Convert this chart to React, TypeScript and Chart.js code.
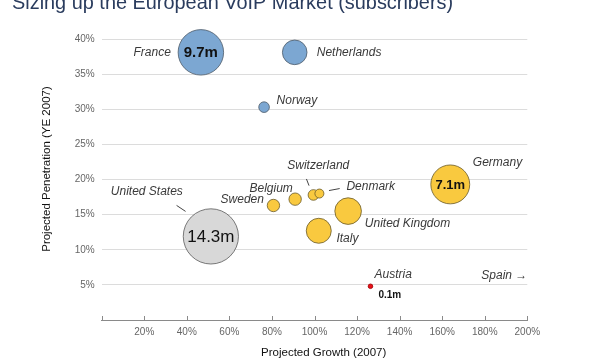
import React, { useEffect, useRef } from 'react';
import { Chart, registerables } from 'chart.js';

Chart.register(...registerables);

const TITLE = 'Sizing up the European VoIP Market (subscribers)';
const X_TITLE = 'Projected Growth (2007)';
const Y_TITLE = 'Projected Penetration (YE 2007)';
const OFF_CHART_LABEL = 'Spain \u2192';
const OFF_CHART_Y = 6.3;

const countries = [
  'France', 'Netherlands', 'Norway', 'United States', 'Sweden', 'Belgium',
  'Switzerland', 'Denmark', 'Italy', 'United Kingdom', 'Germany', 'Austria',
];
const growth = [46.6, 90.7, 76.3, 51.3, 80.7, 90.9, 99.5, 102.3, 102.0, 115.8, 163.8, 126.3];
const penetration = [38.1, 38.1, 30.3, 11.9, 16.3, 17.2, 17.8, 18.0, 12.7, 15.5, 19.3, 4.8];
const subscribers = [9.7, 2.84, 0.53, 14.3, 0.72, 0.72, 0.53, 0.38, 2.93, 3.32, 7.1, 0.1];
const groups = ['blue', 'blue', 'blue', 'gray', 'yellow', 'yellow', 'yellow', 'yellow', 'yellow', 'yellow', 'yellow', 'red'];

const xTickValues = [0, 20, 40, 60, 80, 100, 120, 140, 160, 180, 200];
const yTickValues = [0, 5, 10, 15, 20, 25, 30, 35, 40];

const FONT = "'Liberation Sans', Arial, Helvetica, sans-serif";
const COLORS: Record<string, { fill: string; stroke: string }> = {
  blue: { fill: '#7ca7d2', stroke: '#4d5a68' },
  gray: { fill: '#d8d8d8', stroke: '#5a5a5a' },
  yellow: { fill: '#f9c93f', stroke: '#6a5a2a' },
  red: { fill: '#e8101a', stroke: '#a00000' },
};

// label placement relative to bubble centre (px)
const labelLayout: { dx: number; dy: number; align: CanvasTextAlign; line?: number[]; value?: boolean }[] = [
  { dx: -30, dy: 0, align: 'right' },
  { dx: 22, dy: 0, align: 'left' },
  { dx: 12.5, dy: -6.5, align: 'left' },
  { dx: -28, dy: -44.5, align: 'right', line: [-34.3, -31, -25.3, -25] },
  { dx: -9.5, dy: -5.5, align: 'right' },
  { dx: -2.3, dy: -10.5, align: 'right' },
  { dx: 4.8, dy: -29.5, align: 'center', line: [-7, -16, -4.4, -9.3] },
  { dx: 27, dy: -7, align: 'left', line: [9.6, -3, 20.3, -5] },
  { dx: 17.7, dy: 8, align: 'left' },
  { dx: 16.7, dy: 12.7, align: 'left' },
  { dx: 22.6, dy: -21.7, align: 'left' },
  { dx: 4, dy: -12, align: 'left', value: true },
];

const radiusOf = (m: number) => 7.3 * Math.sqrt(m);

const overlay = {
  id: 'overlay',
  afterDatasetsDraw(chart: any) {
    const ctx: CanvasRenderingContext2D = chart.ctx;
    const xs = chart.scales.x;
    const ys = chart.scales.y;
    const area = chart.chartArea;
    const meta = chart.getDatasetMeta(0);
    ctx.save();

    // x-axis tick marks (pointing up)
    ctx.strokeStyle = '#8a8a8a';
    ctx.lineWidth = 1;
    xTickValues.forEach((v) => {
      const x = Math.round(xs.getPixelForValue(v)) + 0.5;
      ctx.beginPath();
      ctx.moveTo(x, area.bottom);
      ctx.lineTo(x, area.bottom - 4);
      ctx.stroke();
    });

    // bubble labels
    meta.data.forEach((el: any, i: number) => {
      const L = labelLayout[i];
      const cx = el.x;
      const cy = el.y;
      ctx.fillStyle = '#3a3a3a';
      ctx.font = `italic 12px ${FONT}`;
      ctx.textAlign = L.align;
      ctx.textBaseline = 'middle';
      ctx.fillText(countries[i], cx + L.dx, cy + L.dy);
      if (L.line) {
        ctx.strokeStyle = '#444';
        ctx.beginPath();
        ctx.moveTo(cx + L.line[0], cy + L.line[1]);
        ctx.lineTo(cx + L.line[2], cy + L.line[3]);
        ctx.stroke();
      }
      const s = subscribers[i];
      if (s >= 7) {
        const r = radiusOf(s);
        ctx.fillStyle = '#111';
        ctx.textAlign = 'center';
        ctx.font = s > 12 ? `normal ${Math.round(r * 0.62)}px ${FONT}` : `bold ${Math.round(r * 0.65)}px ${FONT}`;
        ctx.fillText(`${s}m`, cx, cy + 1);
      }
      if (L.value) {
        ctx.fillStyle = '#111';
        ctx.textAlign = 'left';
        ctx.font = `bold 10px ${FONT}`;
        ctx.fillText(`${s}m`, cx + 8, cy + 9);
      }
    });

    // off-chart indicator
    ctx.fillStyle = '#3a3a3a';
    ctx.font = `italic 12px ${FONT}`;
    ctx.textAlign = 'right';
    ctx.textBaseline = 'middle';
    ctx.fillText(OFF_CHART_LABEL, area.right, ys.getPixelForValue(OFF_CHART_Y));

    // axis titles
    ctx.fillStyle = '#111';
    ctx.font = `11.5px ${FONT}`;
    ctx.textAlign = 'center';
    ctx.textBaseline = 'middle';
    ctx.fillText(X_TITLE, 323.7, 352.5);
    ctx.save();
    ctx.translate(46.5, 169);
    ctx.rotate(-Math.PI / 2);
    ctx.fillText(Y_TITLE, 0, 0);
    ctx.restore();

    // main title (partly cut off at the top)
    ctx.fillStyle = '#2a3c5e';
    ctx.font = `24px ${FONT}`;
    const w = ctx.measureText(TITLE).width;
    const size = 24 * 441 / w;
    ctx.font = `${size.toFixed(1)}px ${FONT}`;
    ctx.textAlign = 'left';
    ctx.textBaseline = 'alphabetic';
    ctx.fillText(TITLE, 12, 9);

    ctx.restore();
  },
};

export default function App() {
  const ref = useRef<HTMLCanvasElement | null>(null);
  useEffect(() => {
    document.body.style.margin = '0';
    if (!ref.current) return;
    const data = countries.map((_, i) => ({ x: growth[i], y: penetration[i], r: radiusOf(subscribers[i]) }));
    const chart = new Chart(ref.current, {
      type: 'bubble',
      data: {
        datasets: [
          {
            label: 'Subscribers',
            data,
            backgroundColor: groups.map((g) => COLORS[g].fill),
            borderColor: groups.map((g) => COLORS[g].stroke),
            borderWidth: 0.8,
            clip: false as any,
          },
        ],
      },
      options: {
        responsive: false,
        animation: false,
        events: [],
        layout: { padding: { top: 39, right: 72.7, bottom: 0, left: 0 } },
        plugins: { legend: { display: false }, tooltip: { enabled: false }, title: { display: false } },
        scales: {
          x: {
            type: 'linear',
            min: 0,
            max: 200,
            afterFit: (s: any) => { s.height = 40; },
            afterBuildTicks: (s: any) => { s.ticks = xTickValues.map((v) => ({ value: v })); },
            ticks: {
              padding: 6.5,
              color: '#666',
              font: { family: FONT, size: 10 },
              maxRotation: 0,
              autoSkip: false,
              callback: (v: any) => (v === 0 ? '' : `${v}%`),
            },
            grid: { display: false, drawTicks: false },
            border: { display: true, color: '#8a8a8a', width: 1 },
          },
          y: {
            type: 'linear',
            min: 0,
            max: 40,
            afterFit: (s: any) => { s.width = 101.7; },
            afterBuildTicks: (s: any) => { s.ticks = yTickValues.map((v) => ({ value: v })); },
            ticks: {
              padding: 7,
              color: '#666',
              font: { family: FONT, size: 10 },
              autoSkip: false,
              callback: (v: any) => (v === 0 ? '' : `${v}%`),
            },
            grid: {
              drawTicks: false,
              color: (c: any) => (c.tick && c.tick.value === 0 ? 'rgba(0,0,0,0)' : '#dcdcdc'),
              lineWidth: 1,
            },
            border: { display: false },
          },
        },
      },
      plugins: [overlay],
    });
    return () => chart.destroy();
  }, []);
  return (
    <div style={{ width: 600, height: 360, position: 'relative', background: '#fff' }}>
      <canvas ref={ref} width={600} height={360} />
    </div>
  );
}
